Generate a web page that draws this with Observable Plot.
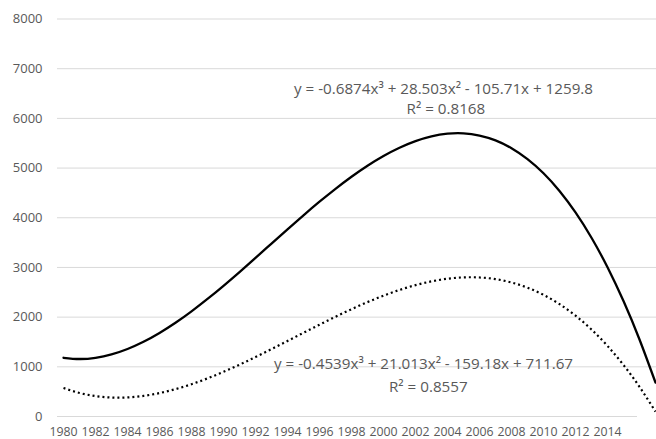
<!DOCTYPE html>
<html>
<head>
<meta charset="utf-8">
<script src="https://cdn.jsdelivr.net/npm/d3@7"></script>
<script src="https://cdn.jsdelivr.net/npm/@observablehq/plot@0.6"></script>
<style>
  html, body { margin: 0; padding: 0; background: #fff; }
  #chart svg { display: block; }
</style>
</head>
<body>
<div id="chart"></div>
<script>
// Years of the series (trendline points)
const years = [1980,1981,1982,1983,1984,1985,1986,1987,1988,1989,1990,1991,1992,1993,1994,1995,1996,1997,1998,1999,2000,2001,2002,2003,2004,2005,2006,2007,2008,2009,2010,2011,2012,2013,2014,2015,2016,2017];

// Solid trendline values
const solidValues = [1182,1157,1181,1249,1358,1503,1681,1886,2116,2366,2631,2908,3192,3480,3767,4050,4323,4583,4826,5048,5244,5410,5543,5638,5691,5698,5654,5557,5400,5181,4896,4540,4108,3598,3004,2323,1550,682];

// Dotted trendline values
const dottedValues = [573,474,411,382,384,415,471,551,650,767,899,1043,1196,1356,1520,1685,1848,2008,2160,2302,2432,2547,2644,2720,2773,2800,2798,2765,2697,2593,2449,2262,2030,1751,1420,1037,597,99];

// Tick labels
const xTicks = [1980,1982,1984,1986,1988,1990,1992,1994,1996,1998,2000,2002,2004,2006,2008,2010,2012,2014];
const yTicks = [0,1000,2000,3000,4000,5000,6000,7000,8000];

// Trendline labels
const solidLabel = ["y = -0.6874x³ + 28.503x² - 105.71x + 1259.8", "R² = 0.8168"];
const dottedLabel = ["y = -0.4539x³ + 21.013x² - 159.18x + 711.67", "R² = 0.8557"];

const solid = years.map((year, i) => ({year, value: solidValues[i]}));
const dotted = years.map((year, i) => ({year, value: dottedValues[i]}));

const gray = "#595959";
const font = "Open Sans";

const chart = Plot.plot({
  width: 656,
  height: 439,
  marginLeft: 57,
  marginRight: 0,
  marginTop: 18.5,
  marginBottom: 23,
  style: {fontFamily: font, background: "#fff", overflow: "visible"},
  x: {domain: [1979.625, 2017.0625], axis: null},
  y: {domain: [0, 8000], axis: null},
  marks: [
    Plot.gridY(yTicks.filter(d => d > 0), {stroke: "#d9d9d9", strokeOpacity: 1, strokeWidth: 1}),
    Plot.ruleY([0], {x1: 1979.625, x2: 2015.875, stroke: "#d9d9d9", strokeWidth: 1}),
    // y-axis tick labels
    Plot.text(yTicks, {y: d => d, frameAnchor: "left", dx: -15, textAnchor: "end", text: d => String(d), fill: gray, fontSize: 13, fontFamily: font}),
    // x-axis tick labels
    Plot.text(xTicks, {x: d => d, frameAnchor: "bottom", dy: 16, lineAnchor: "middle", text: d => String(d), fill: gray, fontSize: 12.3, fontFamily: font}),
    Plot.line(dotted, {x: "year", y: "value", curve: "natural", stroke: "#000", strokeWidth: 2.2, strokeDasharray: "2 3", strokeLinecap: "butt"}),
    Plot.line(solid, {x: "year", y: "value", curve: "natural", stroke: "#000", strokeWidth: 2.3}),
    Plot.text([solidLabel[0]], {x: 2003.75, y: 6589, text: d => d, fill: gray, fontSize: 15.2, fontFamily: font}),
    Plot.text([solidLabel[1]], {x: 2003.9, y: 6186, text: d => d, fill: gray, fontSize: 15.2, fontFamily: font}),
    Plot.text([dottedLabel[0]], {x: 2002.5, y: 1048, text: d => d, fill: gray, fontSize: 15.2, fontFamily: font}),
    Plot.text([dottedLabel[1]], {x: 2002.8, y: 584, text: d => d, fill: gray, fontSize: 15.2, fontFamily: font})
  ]
});
document.getElementById("chart").appendChild(chart);
</script>
</body>
</html>
